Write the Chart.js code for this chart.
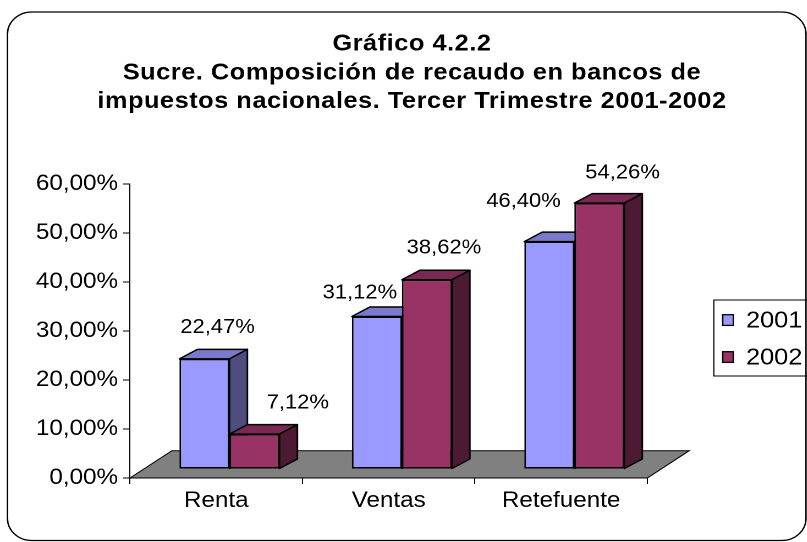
<!DOCTYPE html>
<html><head><meta charset="utf-8">
<script src="https://cdn.jsdelivr.net/npm/chart.js@4.4.1/dist/chart.umd.min.js"></script>
<style>
html,body{margin:0;padding:0;background:#fff;overflow:hidden;}
#wrap{width:734px;height:542px;transform:scaleX(1.1);transform-origin:0 0;}
</style></head>
<body><div id="wrap"><canvas id="c" width="734" height="542"></canvas></div>
<script>
// ---- data ----
const titleLines = ['Gráfico 4.2.2', 'Sucre. Composición de recaudo en bancos de', 'impuestos nacionales. Tercer Trimestre 2001-2002'];
const categories = ['Renta', 'Ventas', 'Retefuente'];
const seriesNames = ['2001', '2002'];
const values2001 = [22.47, 31.12, 46.40];
const values2002 = [7.12, 38.62, 54.26];
const yMin = 0, yMax = 60, yStep = 10;

// ---- styling ----
const frontColors = ['#9999FF', '#993366'];
const topColors = ['#7A7ACC', '#7A2952'];
const sideColors = ['#4D4D80', '#4D1A33'];
// label nudges (relative to bar front-top centre), per series
const labelDx = [[11.9, -15.5, -23.5], [39.4, 15.5, 21.1]];
const labelDy = [[-31.3, -23.7, -40], [-31, -32, -30]];
const FONT = '"Liberation Sans", Arial, sans-serif';
const SHIFT = {x: 12, y: -9};       // bars sit 1/3 into the floor depth
const BAR_DEPTH = {x: 16.3, y: -9.5};
const FLOOR_DEPTH = {x: 38, y: -27.3};

const fmt = v => v.toFixed(2).replace('.', ',') + '%';

Chart.defaults.font.family = FONT;
Chart.defaults.color = '#000';

function poly(ctx, pts, fill) {
  ctx.beginPath();
  ctx.moveTo(pts[0][0], pts[0][1]);
  for (let i = 1; i < pts.length; i++) ctx.lineTo(pts[i][0], pts[i][1]);
  ctx.closePath();
  ctx.fillStyle = fill;
  ctx.fill();
  ctx.stroke();
}

const bars3d = {
  id: 'bars3d',
  beforeDraw(chart) {
    const ctx = chart.ctx;
    ctx.save();
    ctx.fillStyle = '#fff';
    ctx.fillRect(0, 0, chart.width, chart.height);
    ctx.restore();
  },
  beforeDatasetsDraw(chart) {
    const ctx = chart.ctx, xs = chart.scales.x, ys = chart.scales.y;
    const y0 = ys.getPixelForValue(0);
    ctx.save();
    ctx.lineWidth = 1;
    ctx.strokeStyle = '#000';
    poly(ctx, [[xs.left, y0], [xs.left + FLOOR_DEPTH.x, y0 + FLOOR_DEPTH.y],
               [xs.right + FLOOR_DEPTH.x, y0 + FLOOR_DEPTH.y], [xs.right, y0]], '#808080');
    ctx.restore();
  },
  beforeDatasetDraw() { return false; },
  afterDatasetsDraw(chart) {
    const ctx = chart.ctx;
    const metas = chart.data.datasets.map((d, i) => chart.getDatasetMeta(i));
    ctx.save();
    ctx.translate(SHIFT.x, SHIFT.y);
    for (let c = 0; c < categories.length; c++) {
      metas.forEach((meta, s) => {
        const el = meta.data[c];
        el.draw(ctx, chart.chartArea);
        const p = el.getProps(['x', 'y', 'base', 'width'], true);
        const l = p.x - p.width / 2, r = p.x + p.width / 2, t = p.y, b = p.base;
        ctx.lineWidth = 1.5;
        ctx.strokeStyle = '#000';
        ctx.lineJoin = 'round';
        poly(ctx, [[l, t], [l + BAR_DEPTH.x, t + BAR_DEPTH.y], [r + BAR_DEPTH.x, t + BAR_DEPTH.y], [r, t]], topColors[s]);
        poly(ctx, [[r, t], [r + BAR_DEPTH.x, t + BAR_DEPTH.y], [r + BAR_DEPTH.x, b + BAR_DEPTH.y], [r, b]], sideColors[s]);
      });
    }
    // data labels
    ctx.font = '20px ' + FONT;
    ctx.fillStyle = '#000';
    ctx.textAlign = 'center';
    ctx.textBaseline = 'middle';
    metas.forEach((meta, s) => {
      meta.data.forEach((el, c) => {
        const p = el.getProps(['x', 'y'], true);
        const v = chart.data.datasets[s].data[c];
        ctx.fillText(fmt(v), p.x + labelDx[s][c], p.y + labelDy[s][c]);
      });
    });
    ctx.restore();
  },
  afterDraw(chart) {
    const ctx = chart.ctx;
    ctx.save();
    // outer rounded frame
    ctx.strokeStyle = '#000';
    ctx.lineWidth = 1.3;
    ctx.beginPath();
    ctx.roundRect(6.8, 12, 732.7 - 6.8, 540.5 - 12, 22);
    ctx.stroke();
    // legend
    ctx.lineWidth = 1;
    ctx.strokeRect(649, 300, 120, 76);
    const rows = [320, 357];
    ctx.font = '23px ' + FONT;
    ctx.textAlign = 'left';
    ctx.textBaseline = 'middle';
    chart.data.datasets.forEach((ds, i) => {
      ctx.fillStyle = ds.backgroundColor;
      ctx.lineWidth = 1.3;
      ctx.fillRect(657, rows[i] - 5.3, 9.7, 10.7);
      ctx.strokeRect(657, rows[i] - 5.3, 9.7, 10.7);
      ctx.fillStyle = '#000';
      ctx.fillText(ds.label, 678.2, rows[i] + 1);
    });
    ctx.restore();
  }
};

const chart = new Chart(document.getElementById('c'), {
  type: 'bar',
  data: {
    labels: categories,
    datasets: [
      {label: seriesNames[0], data: values2001, backgroundColor: frontColors[0], borderColor: '#000', borderWidth: 1.5, borderSkipped: false},
      {label: seriesNames[1], data: values2002, backgroundColor: frontColors[1], borderColor: '#000', borderWidth: 1.5, borderSkipped: false}
    ]
  },
  options: {
    responsive: false,
    devicePixelRatio: 2,
    animation: false,
    layout: {padding: {left: 15, right: 0, top: 0, bottom: 0}},
    datasets: {bar: {categoryPercentage: 0.58, barPercentage: 1}},
    plugins: {
      legend: {display: false},
      tooltip: {enabled: false},
      title: {
        display: true,
        text: titleLines,
        color: '#000',
        font: {family: FONT, size: 23, weight: 'bold', lineHeight: 1.25},
        padding: {top: 30, bottom: 67.75}
      }
    },
    scales: {
      x: {
        type: 'category',
        offset: true,
        grid: {display: true, drawOnChartArea: false, drawTicks: true, tickLength: 6, color: '#000', offset: true},
        border: {display: true, color: '#000', width: 1},
        ticks: {color: '#000', font: {size: 22}, padding: 3.5, maxRotation: 0},
        afterFit: s => { s.height = 64; }
      },
      y: {
        type: 'linear',
        min: yMin, max: yMax,
        grid: {display: true, drawOnChartArea: false, drawTicks: true, tickLength: 6.4, color: '#000'},
        border: {display: true, color: '#000', width: 1},
        ticks: {stepSize: yStep, color: '#000', font: {size: 22}, padding: 4.5, callback: v => fmt(v)},
        afterFit: s => { s.width = 118.2 - 15; }
      },
      yR: {
        type: 'linear',
        position: 'right',
        display: true,
        grid: {display: false},
        border: {display: false},
        ticks: {display: false},
        afterFit: s => { s.width = 734 - 588.5; }
      }
    }
  },
  plugins: [bars3d]
});

// wider letter spacing for the title, as in the original
if (chart.titleBlock) {
  const tb = chart.titleBlock;
  const origDraw = tb.draw.bind(tb);
  tb.draw = function (area) {
    const ctx = this.ctx;
    ctx.save();
    ctx.letterSpacing = '0.5px';
    origDraw(area);
    ctx.restore();
  };
  chart.draw();
}
</script>
</body></html>
